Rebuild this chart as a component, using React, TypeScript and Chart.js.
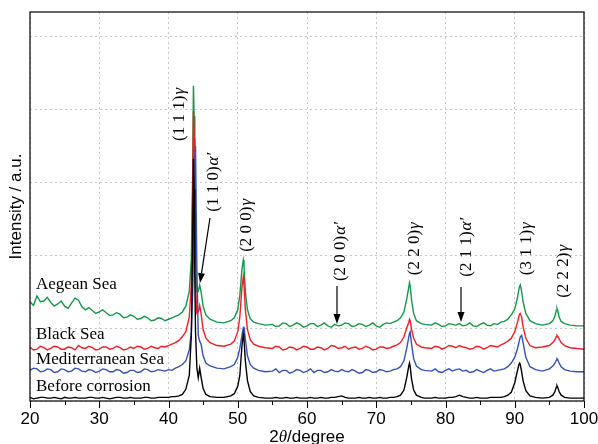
import React, { useEffect, useRef } from 'react';
import { Chart, registerables } from 'chart.js';

Chart.register(...registerables);

// 2θ positions (degree) shared by all four patterns
const twoTheta = [
  20, 20.5, 21, 21.5, 22, 22.5, 23, 23.5, 24, 24.5, 25, 25.5, 26, 26.5, 27, 27.5, 28, 28.5, 29, 29.5, 30, 30.5,
  31, 31.5, 32, 32.5, 33, 33.5, 34, 34.5, 35, 35.5, 36, 36.5, 37, 37.5, 38, 38.5, 39, 39.5, 40, 40.5, 41, 41.5, 42,
  42.5, 43, 43.3, 43.5, 43.6, 43.7, 43.8, 43.9, 44.1, 44.3, 44.5, 44.7, 45, 45.4, 46, 47, 48, 49, 49.5, 50, 50.3, 50.6, 50.8, 50.9, 51.1, 51.4, 51.8, 52.3, 53, 54,
  55, 55.5, 56, 56.5, 57, 57.5, 58, 58.5, 59, 59.5, 60, 60.5, 61, 61.5, 62, 62.5, 63, 63.5, 64, 64.5,
  65, 65.5, 66, 66.5, 67, 67.5, 68, 68.5, 69, 69.5, 70, 70.5, 71, 71.5, 72, 72.5, 73,
  73.5, 74, 74.4, 74.7, 74.8, 74.9, 75.1, 75.4, 75.8, 76.5, 77,
  78, 78.5, 79, 79.5, 80, 80.5, 81, 81.5, 82, 82.5, 83, 83.5, 84, 84.5, 85, 85.5, 86, 86.5, 87, 87.5, 88, 88.5, 89,
  89.5, 90, 90.4, 90.6, 90.7, 90.8, 91, 91.2, 91.6, 92.2, 93,
  94, 95, 95.5, 95.8, 96, 96.1, 96.2, 96.4, 96.7, 97.2, 98, 99, 100,
];

// intensities (a.u., vertical offsets included)
const beforeCorrosion = [
  0.05, 0.03, 0.04, 0.05, 0.05, 0.04, 0.04, 0.05, 0.04, 0.03, 0.05, 0.04, 0.04, 0.05, 0.04, 0.04, 0.04, 0.05, 0.05, 0.04, 0.04, 0.05,
  0.04, 0.03, 0.04, 0.05, 0.05, 0.04, 0.04, 0.05, 0.04, 0.04, 0.04, 0.05, 0.05, 0.04, 0.04, 0.05, 0.05, 0.05, 0.05, 0.06, 0.06, 0.07, 0.09,
  0.16, 0.35, 0.9, 2.3, 3.32, 2.9, 1.7, 0.95, 0.45, 0.32, 0.45, 0.33, 0.17, 0.09, 0.06, 0.05, 0.05, 0.07, 0.1, 0.2, 0.35, 0.75, 0.92, 0.85, 0.55, 0.28, 0.13, 0.07, 0.05, 0.04,
  0.04, 0.05, 0.04, 0.04, 0.05, 0.04, 0.04, 0.05, 0.04, 0.04, 0.04, 0.05, 0.04, 0.04, 0.05, 0.04, 0.04, 0.05, 0.05, 0.06,
  0.07, 0.05, 0.04, 0.04, 0.04, 0.05, 0.04, 0.04, 0.05, 0.04, 0.04, 0.05, 0.04, 0.04, 0.05, 0.05, 0.06,
  0.08, 0.15, 0.32, 0.48, 0.52, 0.47, 0.3, 0.15, 0.08, 0.05, 0.04,
  0.04, 0.05, 0.04, 0.04, 0.04, 0.05, 0.05, 0.06, 0.08, 0.06, 0.05, 0.04, 0.04, 0.05, 0.04, 0.04, 0.04, 0.05, 0.05, 0.05, 0.05, 0.06, 0.08,
  0.12, 0.25, 0.42, 0.5, 0.52, 0.5, 0.4, 0.28, 0.14, 0.07, 0.05,
  0.04, 0.05, 0.08, 0.13, 0.19, 0.21, 0.19, 0.13, 0.08, 0.05, 0.04, 0.04, 0.04,
];

const mediterraneanSea = [
  0.42, 0.45, 0.44, 0.40, 0.41, 0.44, 0.43, 0.39, 0.40, 0.44, 0.43, 0.40, 0.41, 0.45, 0.44, 0.41, 0.40, 0.43, 0.42, 0.39, 0.41, 0.44,
  0.43, 0.40, 0.40, 0.43, 0.42, 0.38, 0.39, 0.42, 0.42, 0.39, 0.40, 0.44, 0.43, 0.40, 0.41, 0.43, 0.42, 0.41, 0.43, 0.42, 0.45, 0.47, 0.50,
  0.55, 0.7, 0.95, 1.5, 2.0, 2.8, 3.3, 3.49, 1.8, 0.9, 0.82, 0.78, 0.62, 0.52, 0.48, 0.45, 0.44, 0.47, 0.5, 0.6, 0.72, 0.9, 1.0, 1.02, 0.85, 0.62, 0.5, 0.45, 0.42, 0.40,
  0.41, 0.44, 0.39, 0.42, 0.42, 0.38, 0.40, 0.43, 0.42, 0.39, 0.41, 0.44, 0.39, 0.42, 0.42, 0.39, 0.40, 0.43, 0.41, 0.40,
  0.43, 0.41, 0.40, 0.43, 0.41, 0.38, 0.39, 0.43, 0.42, 0.39, 0.40, 0.43, 0.42, 0.40, 0.41, 0.43, 0.44,
  0.47, 0.55, 0.72, 0.88, 0.93, 0.95, 0.78, 0.58, 0.48, 0.43, 0.42,
  0.41, 0.44, 0.40, 0.39, 0.42, 0.44, 0.41, 0.43, 0.44, 0.41, 0.42, 0.39, 0.40, 0.43, 0.41, 0.39, 0.42, 0.44, 0.41, 0.42, 0.43, 0.44, 0.47,
  0.52, 0.6, 0.72, 0.8, 0.84, 0.88, 0.9, 0.8, 0.6, 0.47, 0.43,
  0.41, 0.44, 0.48, 0.52, 0.56, 0.58, 0.57, 0.52, 0.47, 0.43, 0.41, 0.40, 0.40,
];

const blackSea = [
  0.74, 0.70, 0.71, 0.75, 0.73, 0.70, 0.72, 0.75, 0.74, 0.71, 0.71, 0.74, 0.73, 0.70, 0.76, 0.73, 0.72, 0.75, 0.73, 0.70, 0.71, 0.74,
  0.74, 0.71, 0.72, 0.75, 0.73, 0.70, 0.71, 0.74, 0.72, 0.75, 0.74, 0.71, 0.72, 0.75, 0.73, 0.72, 0.75, 0.74, 0.76, 0.78, 0.80, 0.83, 0.88,
  0.95, 1.15, 1.6, 2.9, 3.97, 3.6, 2.4, 1.6, 1.2, 1.22, 1.31, 1.2, 0.98, 0.86, 0.8, 0.76, 0.75, 0.78, 0.82, 0.95, 1.15, 1.55, 1.7, 1.6, 1.25, 0.98, 0.84, 0.78, 0.75, 0.73,
  0.72, 0.75, 0.74, 0.70, 0.71, 0.74, 0.73, 0.70, 0.72, 0.75, 0.74, 0.71, 0.71, 0.74, 0.73, 0.70, 0.72, 0.76, 0.75, 0.72,
  0.73, 0.75, 0.71, 0.73, 0.74, 0.71, 0.72, 0.75, 0.73, 0.70, 0.71, 0.74, 0.74, 0.72, 0.73, 0.75, 0.77,
  0.8, 0.88, 1.0, 1.08, 1.12, 1.1, 0.98, 0.86, 0.78, 0.74, 0.73,
  0.72, 0.75, 0.74, 0.71, 0.73, 0.76, 0.75, 0.73, 0.76, 0.74, 0.73, 0.71, 0.72, 0.75, 0.74, 0.71, 0.73, 0.76, 0.75, 0.74, 0.77, 0.79, 0.82,
  0.86, 0.95, 1.08, 1.16, 1.19, 1.2, 1.15, 1.02, 0.86, 0.76, 0.73,
  0.74, 0.76, 0.8, 0.84, 0.88, 0.9, 0.89, 0.85, 0.8, 0.76, 0.73, 0.72, 0.71,
];

const aegeanSea = [
  1.36, 1.31, 1.44, 1.36, 1.37, 1.42, 1.35, 1.30, 1.33, 1.37, 1.30, 1.27, 1.34, 1.41, 1.38, 1.29, 1.25, 1.28, 1.24, 1.20, 1.22, 1.25,
  1.21, 1.17, 1.18, 1.21, 1.19, 1.14, 1.15, 1.18, 1.16, 1.12, 1.13, 1.16, 1.14, 1.10, 1.11, 1.14, 1.13, 1.10, 1.12, 1.14, 1.16, 1.18, 1.22,
  1.3, 1.5, 1.95, 3.2, 4.32, 3.9, 2.7, 1.9, 1.5, 1.5, 1.59, 1.5, 1.3, 1.18, 1.12, 1.08, 1.07, 1.1, 1.14, 1.25, 1.45, 1.8, 1.93, 1.85, 1.5, 1.25, 1.13, 1.08, 1.06, 1.04,
  1.05, 1.02, 1.03, 1.07, 1.06, 1.02, 1.04, 1.07, 1.05, 1.01, 1.03, 1.06, 1.06, 1.02, 1.04, 1.07, 1.03, 1.01, 1.05, 1.03,
  1.04, 1.07, 1.06, 1.02, 1.03, 1.06, 1.05, 1.02, 1.04, 1.07, 1.03, 1.01, 1.05, 1.07, 1.06, 1.08, 1.1,
  1.14, 1.22, 1.4, 1.56, 1.62, 1.58, 1.38, 1.2, 1.1, 1.06, 1.05,
  1.04, 1.07, 1.05, 1.02, 1.03, 1.06, 1.05, 1.04, 1.06, 1.03, 1.04, 1.07, 1.03, 1.02, 1.05, 1.07, 1.04, 1.03, 1.06, 1.05, 1.08, 1.09, 1.12,
  1.18, 1.26, 1.42, 1.53, 1.57, 1.59, 1.5, 1.36, 1.2, 1.1, 1.06,
  1.04, 1.06, 1.1, 1.16, 1.24, 1.27, 1.24, 1.15, 1.09, 1.06, 1.04, 1.03, 1.03,
];

const seriesNames = ['Before corrosion', 'Mediterranean Sea', 'Black Sea', 'Aegean Sea'];
const seriesColors = ['#000000', '#3552b3', '#ee1f27', '#17964a'];

// axis
const xTickValues = [20, 30, 40, 50, 60, 70, 80, 90, 100];
const yGridValues = [0, 1, 2, 3, 4, 5];

// series-name label anchors (2θ, intensity baseline)
const seriesLabelTheta = [20.87, 20.87, 20.87, 20.87];
const seriesLabelLevel = [0.137, 0.507, 0.849, 1.534];

// peak annotations: index text, phase symbol, anchor (2θ, intensity)
const peakIndex = ['(1 1 1)', '(1 1 0)', '(2 0 0)', '(2 0 0)', '(2 2 0)', '(2 1 1)', '(3 1 1)', '(2 2 2)'];
const peakPhase = ['γ', 'α′', 'γ', 'α′', 'γ', 'α′', 'γ', 'γ'];
const peakLabelTheta = [41.66, 46.57, 51.34, 64.77, 75.6, 83.1, 91.77, 97.11];
const peakLabelLevel = [3.92, 2.99, 2.4, 2.04, 2.08, 2.1, 2.08, 1.77];

// arrows: from (θ, level) to (θ, level)
const arrowFromTheta = [45.99, 64.33, 82.24];
const arrowFromLevel = [2.507, 1.575, 1.562];
const arrowToTheta = [44.55, 64.33, 82.24];
const arrowToLevel = [1.616, 1.055, 1.082];

const SERIF = '"Liberation Serif", "Times New Roman", serif';
const SANS = '"Liberation Sans", Arial, sans-serif';

const overlayPlugin = {
  id: 'overlay',
  afterDatasetsDraw(chart: any) {
    const { ctx, chartArea: a, scales } = chart;
    const xs = scales.x;
    const ys = scales.y;
    ctx.save();

    // frame
    ctx.strokeStyle = '#000';
    ctx.lineWidth = 1.2;
    ctx.setLineDash([]);
    ctx.strokeRect(a.left, a.top, a.right - a.left, a.bottom - a.top);

    // x tick marks (major every 10, minor every 5), outward
    ctx.lineWidth = 1;
    for (let v = xs.min; v <= xs.max + 0.001; v += 5) {
      const px = Math.round(xs.getPixelForValue(v)) + 0.5;
      const len = v % 10 === 0 ? 7 : 4;
      ctx.beginPath();
      ctx.moveTo(px, a.bottom);
      ctx.lineTo(px, a.bottom + len);
      ctx.stroke();
    }

    // series names
    ctx.fillStyle = '#000';
    ctx.font = `17px ${SERIF}`;
    ctx.textAlign = 'left';
    ctx.textBaseline = 'alphabetic';
    seriesNames.forEach((name, i) => {
      ctx.fillText(name, xs.getPixelForValue(seriesLabelTheta[i]), ys.getPixelForValue(seriesLabelLevel[i]));
    });

    // peak labels (rotated)
    peakIndex.forEach((txt, i) => {
      const cx = xs.getPixelForValue(peakLabelTheta[i]);
      const cy = ys.getPixelForValue(peakLabelLevel[i]);
      ctx.save();
      ctx.translate(cx, cy);
      ctx.rotate(-Math.PI / 2);
      ctx.textBaseline = 'middle';
      ctx.textAlign = 'left';
      ctx.font = `17px ${SERIF}`;
      const w1 = ctx.measureText(txt).width;
      ctx.font = `italic 17px ${SERIF}`;
      const w2 = ctx.measureText(peakPhase[i]).width;
      const start = -(w1 + w2) / 2;
      ctx.font = `17px ${SERIF}`;
      ctx.fillText(txt, start, 0);
      ctx.font = `italic 17px ${SERIF}`;
      ctx.fillText(peakPhase[i], start + w1 + 1, 0);
      ctx.restore();
    });

    // arrows
    ctx.strokeStyle = '#000';
    ctx.fillStyle = '#000';
    ctx.lineWidth = 1.2;
    arrowFromTheta.forEach((t, i) => {
      const x1 = xs.getPixelForValue(t);
      const y1 = ys.getPixelForValue(arrowFromLevel[i]);
      const x2 = xs.getPixelForValue(arrowToTheta[i]);
      const y2 = ys.getPixelForValue(arrowToLevel[i]);
      const ang = Math.atan2(y2 - y1, x2 - x1);
      const hl = 10;
      const hw = 3.5;
      const bx = x2 - hl * Math.cos(ang);
      const by = y2 - hl * Math.sin(ang);
      ctx.beginPath();
      ctx.moveTo(x1, y1);
      ctx.lineTo(bx, by);
      ctx.stroke();
      ctx.beginPath();
      ctx.moveTo(x2, y2);
      ctx.lineTo(bx + hw * Math.sin(ang), by - hw * Math.cos(ang));
      ctx.lineTo(bx - hw * Math.sin(ang), by + hw * Math.cos(ang));
      ctx.closePath();
      ctx.fill();
    });

    // y title
    ctx.save();
    ctx.translate(16.5, (a.top + a.bottom) / 2);
    ctx.rotate(-Math.PI / 2);
    ctx.font = `17px ${SANS}`;
    ctx.textAlign = 'center';
    ctx.textBaseline = 'middle';
    ctx.fillText('Intensity / a.u.', 0, 0);
    ctx.restore();

    // x title: 2θ/degree
    const parts: [string, string][] = [
      ['2', `17px ${SANS}`],
      ['θ', `italic 17px ${SERIF}`],
      ['/degree', `17px ${SANS}`],
    ];
    let total = 0;
    const widths = parts.map(([t, f]) => {
      ctx.font = f;
      const w = ctx.measureText(t).width;
      total += w;
      return w;
    });
    let xpos = (a.left + a.right) / 2 - total / 2;
    ctx.textAlign = 'left';
    ctx.textBaseline = 'alphabetic';
    parts.forEach(([t, f], i) => {
      ctx.font = f;
      ctx.fillText(t, xpos, a.bottom + 41);
      xpos += widths[i];
    });

    ctx.restore();
  },
};

export default function App() {
  const ref = useRef<HTMLCanvasElement>(null);

  useEffect(() => {
    document.body.style.margin = '0';
    const series = [beforeCorrosion, mediterraneanSea, blackSea, aegeanSea];
    const chart = new Chart(ref.current as HTMLCanvasElement, {
      type: 'line',
      data: {
        datasets: series.map((vals, i) => ({
          label: seriesNames[i],
          data: twoTheta.map((t, j) => ({ x: t, y: vals[j] })),
          borderColor: seriesColors[i],
          backgroundColor: seriesColors[i],
          borderWidth: 1.4,
          pointRadius: 0,
          tension: 0,
          fill: false,
        })),
      },
      options: {
        responsive: false,
        animation: false,
        events: [],
        layout: { padding: { left: 0, right: 14, top: 12, bottom: 0 } },
        plugins: {
          legend: { display: false },
          tooltip: { enabled: false },
          title: { display: false },
        },
        scales: {
          x: {
            type: 'linear',
            min: 20,
            max: 100,
            afterBuildTicks: (s: any) => {
              s.ticks = xTickValues.map((v) => ({ value: v }));
            },
            afterFit: (s: any) => {
              s.height = 43;
              s.paddingLeft = 0;
              s.paddingRight = 0;
            },
            ticks: {
              color: '#000',
              font: { family: SANS, size: 17 },
              padding: 8,
              maxRotation: 0,
              autoSkip: false,
            },
            grid: {
              color: '#c8c8c8',
              lineWidth: 1,
              drawTicks: false,
            },
            border: { display: false, dash: [2, 3] },
          },
          y: {
            type: 'linear',
            min: 0,
            max: 5.33,
            afterBuildTicks: (s: any) => {
              s.ticks = yGridValues.map((v) => ({ value: v }));
            },
            afterFit: (s: any) => {
              s.width = 30;
            },
            ticks: { display: false },
            grid: {
              color: '#c8c8c8',
              lineWidth: 1,
              drawTicks: false,
            },
            border: { display: false, dash: [2, 3] },
          },
        },
      },
      plugins: [overlayPlugin],
    } as any);
    return () => chart.destroy();
  }, []);

  return (
    <div style={{ position: 'fixed', left: 0, top: 0, width: 598, height: 444 }}>
      <canvas ref={ref} width={598} height={444} style={{ display: 'block' }} />
    </div>
  );
}
